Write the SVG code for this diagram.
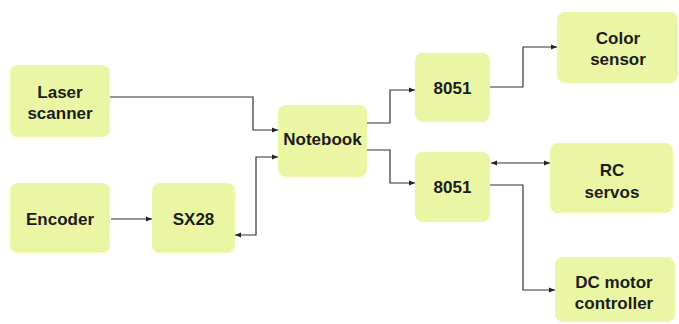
<svg xmlns="http://www.w3.org/2000/svg" width="679" height="324" viewBox="0 0 679 324">
<defs>
<marker id="arr" viewBox="0 0 10 10" refX="10" refY="5" markerWidth="6" markerHeight="6" orient="auto-start-reverse" markerUnits="userSpaceOnUse">
<path d="M0,1 L10,5 L0,9 z" fill="#222"/>
</marker>
<style>
.box{fill:#eaf6a4;}
.t{font-family:"Liberation Sans",Arial,sans-serif;font-weight:bold;font-size:17px;fill:#1c1c1c;text-anchor:middle;}
.c{fill:none;stroke:#333;stroke-width:1.2;}
</style>
</defs>
<rect width="679" height="324" fill="#ffffff"/>
<g id="connectors">
<path class="c" d="M110,97 H253 V130 H278" marker-end="url(#arr)"/>
<path class="c" d="M235,235 H256 V157 H278" marker-start="url(#arr)" marker-end="url(#arr)"/>
<path class="c" d="M111,219 H152" marker-end="url(#arr)"/>
<path class="c" d="M367,123 H390 V90 H415" marker-end="url(#arr)"/>
<path class="c" d="M367,150 H390 V183 H415" marker-end="url(#arr)"/>
<path class="c" d="M490,87 H523 V47 H557" marker-end="url(#arr)"/>
<path class="c" d="M491,163 H550" marker-start="url(#arr)" marker-end="url(#arr)"/>
<path class="c" d="M490,185 H523 V290 H555" marker-end="url(#arr)"/>
</g>
<g id="laser"><rect class="box" x="10" y="65" width="100" height="72" rx="8"/><text class="t" x="60" y="98">Laser</text><text class="t" x="60" y="119">scanner</text></g>
<g id="encoder"><rect class="box" x="10" y="183" width="100" height="70" rx="8"/><text class="t" x="60" y="225">Encoder</text></g>
<g id="sx28"><rect class="box" x="152" y="183" width="83" height="70" rx="8"/><text class="t" x="193.5" y="225">SX28</text></g>
<g id="notebook"><rect class="box" x="278" y="105" width="89" height="72" rx="8"/><text class="t" x="322.5" y="145">Notebook</text></g>
<g id="mcu1"><rect class="box" x="415" y="53" width="75" height="69" rx="8"/><text class="t" x="452.5" y="94">8051</text></g>
<g id="mcu2"><rect class="box" x="415" y="152" width="75" height="70" rx="8"/><text class="t" x="452.5" y="193">8051</text></g>
<g id="color"><rect class="box" x="557" y="12" width="121" height="71" rx="8"/><text class="t" x="618" y="44">Color</text><text class="t" x="618" y="65">sensor</text></g>
<g id="servos"><rect class="box" x="550" y="143" width="123" height="70" rx="8"/><text class="t" x="612" y="176">RC</text><text class="t" x="612" y="198">servos</text></g>
<g id="dcmotor"><rect class="box" x="555" y="257" width="120" height="65" rx="8"/><text class="t" x="614" y="288">DC motor</text><text class="t" x="614" y="309">controller</text></g>
</svg>
